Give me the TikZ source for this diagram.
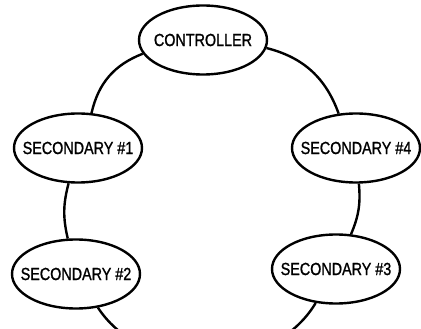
\documentclass[tikz,border=0pt]{standalone}
\usepackage{fontspec}
\newfontfamily\stationfont{Liberation Sans}[AutoFakeBold=1.3]
\usetikzlibrary{shapes.geometric}

\begin{document}
\begin{tikzpicture}[x=1pt, y=1pt, line width=2.4pt,
		station/.style={draw, ellipse, fill=white, inner sep=0pt,
			minimum width=128pt, minimum height=69pt,
			label={[font=\stationfont\bfseries\fontsize{17.5}{20}\selectfont, xscale=0.82, transform shape]center:#1}}]
	\useasboundingbox (0,0) rectangle (421,329);
	
	% ==================== 环上各站 ====================
	\node[station=CONTROLLER] (ctrl) at (203,289) {};
	\node[station={SECONDARY \#1}] (sec1) at (78,181) {};
	\node[station={SECONDARY \#2}] (sec2) at (76,55) {};
	\node[station={SECONDARY \#3}] (sec3) at (336,60) {};
	\node[station={SECONDARY \#4}] (sec4) at (356,181) {};
	
	% ==================== 环形连线 ====================
	\draw (ctrl) to[bend right=28] (sec1);
	\draw (sec1) to[bend right=14] (sec2);
	\draw (sec2) to[bend right=58] (sec3);
	\draw (sec3) to[bend right=14] (sec4);
	\draw (sec4) to[bend right=28] (ctrl);
\end{tikzpicture}
\end{document}
